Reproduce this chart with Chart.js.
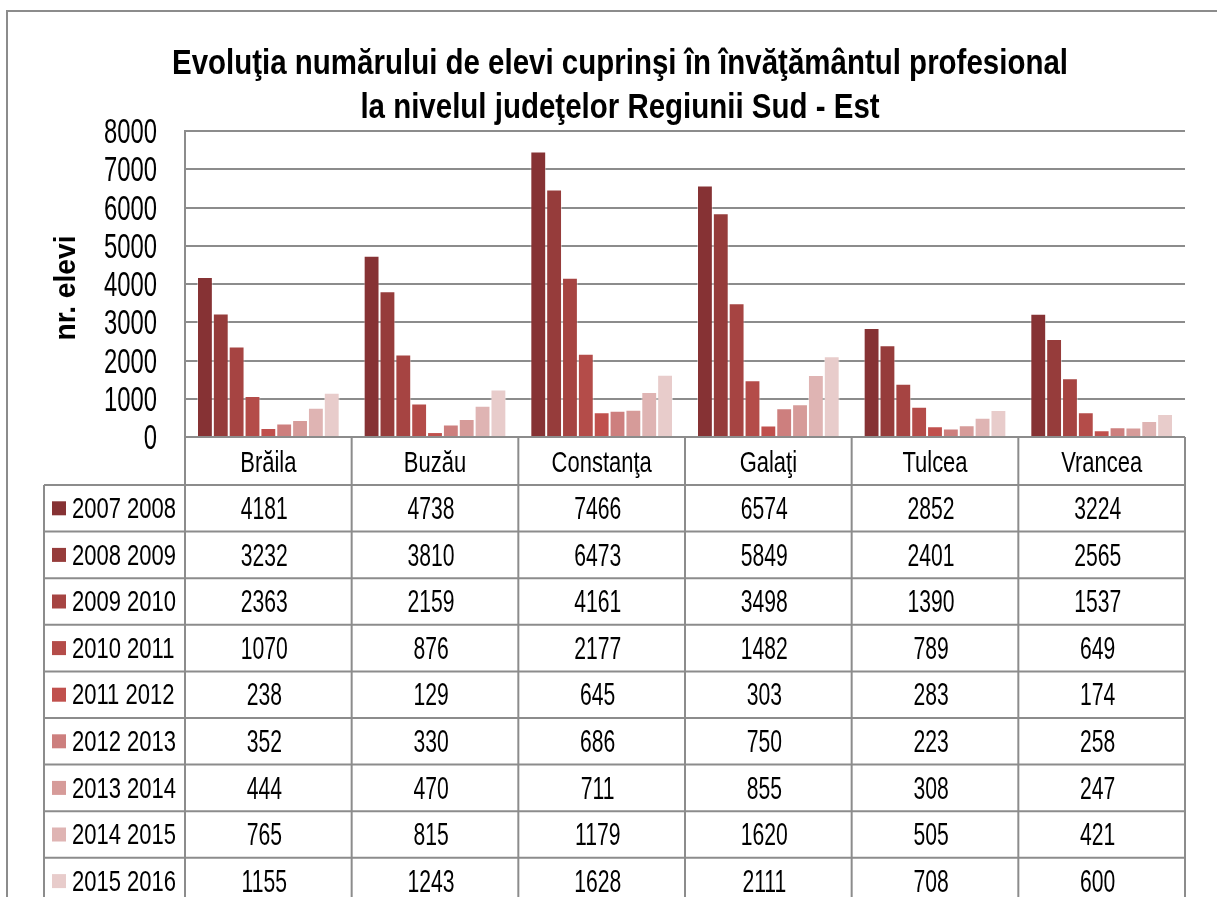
<!DOCTYPE html>
<html lang="ro">
<head>
   <meta charset="UTF-8">
   <title>Evoluţia numărului de elevi</title>
   <script src="https://cdn.jsdelivr.net/npm/chart.js"></script>
   <style>
       body { margin: 0; padding: 0; background: #fff; }
       #chart { display: block; }
   </style>
</head>
<body>
   <canvas id="chart" width="1217" height="897"></canvas>
   <script>
       // data
       const judete = ['Brăila', 'Buzău', 'Constanţa', 'Galaţi', 'Tulcea', 'Vrancea'];
       const aniScolari = ['2007 2008', '2008 2009', '2009 2010', '2010 2011', '2011 2012',
                           '2012 2013', '2013 2014', '2014 2015', '2015 2016'];
       const elevi2007 = [4181, 4738, 7466, 6574, 2852, 3224];
       const elevi2008 = [3232, 3810, 6473, 5849, 2401, 2565];
       const elevi2009 = [2363, 2159, 4161, 3498, 1390, 1537];
       const elevi2010 = [1070, 876, 2177, 1482, 789, 649];
       const elevi2011 = [238, 129, 645, 303, 283, 174];
       const elevi2012 = [352, 330, 686, 750, 223, 258];
       const elevi2013 = [444, 470, 711, 855, 308, 247];
       const elevi2014 = [765, 815, 1179, 1620, 505, 421];
       const elevi2015 = [1155, 1243, 1628, 2111, 708, 600];
       const yTicks = [0, 1000, 2000, 3000, 4000, 5000, 6000, 7000, 8000];

       const serii = [elevi2007, elevi2008, elevi2009, elevi2010, elevi2011,
                      elevi2012, elevi2013, elevi2014, elevi2015];
       const culori = ['#863234', '#963c3b', '#a64442', '#b44c49', '#c0504d',
                       '#cd7f7e', '#d69b99', '#dfb4b3', '#e8cccb'];

       const FAM = '"Liberation Sans Narrow", "Arial Narrow", "Liberation Sans", Arial, sans-serif';
       const GRAY = '#8c8c8c';

       function fitX(ctx, font, sample, target) {
           ctx.save();
           ctx.font = font;
           const w = ctx.measureText(sample).width;
           ctx.restore();
           return target / w;
       }

       function put(ctx, s, px, py, font, sx, align) {
           ctx.save();
           ctx.translate(px, py);
           ctx.scale(sx, 1);
           ctx.font = font;
           ctx.fillStyle = '#000';
           ctx.textAlign = align;
           ctx.textBaseline = 'alphabetic';
           ctx.fillText(s, 0, 0);
           ctx.restore();
       }

       function line(ctx, x1, y1, x2, y2) {
           ctx.beginPath();
           ctx.moveTo(x1, y1);
           ctx.lineTo(x2, y2);
           ctx.stroke();
       }

       const whiteBg = {
           id: 'whiteBg',
           beforeDraw(chart) {
               const ctx = chart.ctx;
               ctx.save();
               ctx.fillStyle = '#fff';
               ctx.fillRect(0, 0, chart.width, chart.height);
               ctx.restore();
           }
       };

       // title, axis labels and the data table under the plot
       const textAndTable = {
           id: 'textAndTable',
           afterDraw(chart) {
               const ctx = chart.ctx;
               const a = chart.chartArea;
               const xs = chart.scales.x;
               const ys = chart.scales.y;

               ctx.save();
               ctx.strokeStyle = GRAY;
               ctx.lineWidth = 2;
               // outer frame
               ctx.strokeRect(7, 11, 1400, 1000);

               // title
               const tFont = 'bold 35px ' + FAM;
               const tsx = fitX(ctx, tFont, 'Evoluţia numărului de elevi cuprinşi în învăţământul profesional', 896);
               put(ctx, 'Evoluţia numărului de elevi cuprinşi în învăţământul profesional', 620, 74, tFont, tsx, 'center');
               put(ctx, 'la nivelul judeţelor Regiunii Sud - Est', 620, 118, tFont, tsx, 'center');

               // y axis title
               const yFont = 'bold 30px ' + FAM;
               const ysx = fitX(ctx, yFont, 'nr. elevi', 105);
               ctx.save();
               ctx.translate(75, 288);
               ctx.rotate(-Math.PI / 2);
               put(ctx, 'nr. elevi', 0, 0, yFont, ysx, 'center');
               ctx.restore();

               // y tick labels
               const tkFont = '35px ' + FAM;
               const tksx = fitX(ctx, tkFont, '5000', 53);
               ys.ticks.forEach((t, i) => {
                   put(ctx, String(t.value), 157, ys.getPixelForTick(i) + 12, tkFont, tksx, 'right');
               });

               // table
               const step = xs.getPixelForValue(1) - xs.getPixelForValue(0);
               const headTop = a.bottom;
               const rowTop = 485;
               const rowH = 46.6;
               const bottom = 960;

               for (let i = 0; i <= judete.length; i++) {
                   const bx = xs.getPixelForValue(0) - step / 2 + i * step;
                   line(ctx, bx, headTop, bx, bottom);
               }
               line(ctx, 44, rowTop, 44, bottom);
               for (let r = 0; r <= aniScolari.length; r++) {
                   const yy = rowTop + r * rowH;
                   line(ctx, 44, yy, a.right, yy);
               }

               const hFont = '30px ' + FAM;
               const hsx = fitX(ctx, hFont, 'Vrancea', 81);
               judete.forEach((j, i) => {
                   put(ctx, j, xs.getPixelForValue(i), 472, hFont, hsx, 'center');
               });

               const lFont = '29px ' + FAM;
               const vFont = '31px ' + FAM;
               const lsx = fitX(ctx, lFont, '2007 2008', 104);
               const vsx = fitX(ctx, vFont, '4181', 47);
               aniScolari.forEach((an, r) => {
                   const top = rowTop + r * rowH;
                   ctx.fillStyle = culori[r];
                   ctx.fillRect(52, top + rowH / 2 - 7, 14, 14);
                   put(ctx, an, 72, top + 33, lFont, lsx, 'left');
                   serii[r].forEach((v, i) => {
                       put(ctx, String(v), xs.getPixelForValue(i) - 4, top + 34, vFont, vsx, 'center');
                   });
               });
               ctx.restore();
           }
       };

       new Chart(document.getElementById('chart'), {
           type: 'bar',
           data: {
               labels: judete,
               datasets: aniScolari.map((an, k) => ({
                   label: an,
                   data: serii[k],
                   backgroundColor: culori[k],
                   borderColor: 'rgba(255,255,255,0.45)',
                   borderWidth: 1,
                   borderSkipped: 'bottom',
                   barPercentage: 1,
                   categoryPercentage: 0.856
               }))
           },
           options: {
               responsive: false,
               animation: false,
               layout: { padding: { left: 0, top: 131, right: 32, bottom: 460 } },
               plugins: {
                   legend: { display: false },
                   title: { display: false },
                   tooltip: { enabled: false }
               },
               scales: {
                   x: { display: false },
                   y: {
                       min: 0,
                       max: 8000,
                       afterBuildTicks(scale) {
                           scale.ticks = yTicks.map(v => ({ value: v }));
                       },
                       afterFit(scale) { scale.width = 185; },
                       ticks: { display: false },
                       grid: { color: GRAY, lineWidth: 2, drawTicks: false },
                       border: { display: true, color: GRAY, width: 2 }
                   }
               }
           },
           plugins: [whiteBg, textAndTable]
       });
   </script>
</body>
</html>
